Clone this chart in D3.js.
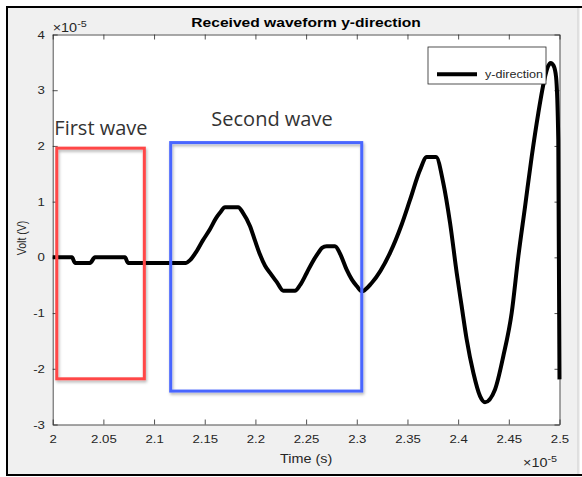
<!DOCTYPE html>
<html>
<head>
<meta charset="utf-8">
<script src="https://cdn.jsdelivr.net/npm/d3@7"></script>
<style>
  body { margin: 0; background: #fff; }
  svg { display: block; font-family: "Liberation Sans", Arial, sans-serif; }
</style>
</head>
<body>
<svg id="svg"></svg>
<script>
// time in units of 1e-5 s, voltage in units of 1e-5 V
const times = [2.000, 2.019, 2.022, 2.0368, 2.0417, 2.0713, 2.0743, 2.1315, 2.1355, 2.142,
    2.148, 2.155, 2.161, 2.165, 2.170, 2.183, 2.1877, 2.1947, 2.1996, 2.2045,
    2.2095, 2.2144, 2.2213, 2.2275, 2.239, 2.244, 2.2506, 2.2558, 2.262, 2.2657,
    2.2703, 2.2785, 2.2834, 2.290, 2.2952, 2.3002, 2.3049, 2.3147, 2.3328, 2.3443,
    2.3525, 2.3624, 2.369, 2.3782, 2.3854, 2.392, 2.3986, 2.4035, 2.4084, 2.415,
    2.4216, 2.4265, 2.4364, 2.4446, 2.4528, 2.4594, 2.466, 2.4726, 2.4791, 2.4857,
    2.4885, 2.4913, 2.4942, 2.4966, 2.4988, 2.500];
const volts = [0, 0, -0.1, -0.1, 0, 0, -0.1, -0.1, -0.05, 0.11,
    0.3, 0.5, 0.7, 0.8, 0.9, 0.9, 0.8, 0.56, 0.3, 0.05,
    -0.15, -0.28, -0.45, -0.6, -0.6, -0.5, -0.28, -0.1, 0.08, 0.17,
    0.2, 0.2, 0.07, -0.22, -0.4, -0.52, -0.61, -0.46, 0.08, 0.59,
    1.03, 1.57, 1.8, 1.8, 1.33, 0.62, -0.28, -0.88, -1.47, -2.07,
    -2.49, -2.6, -2.37, -1.77, -1.0, 0.02, 0.91, 1.81, 2.59, 3.24,
    3.42, 3.49, 3.44, 3.24, 2.11, -2.19];

const xTicks = [2, 2.05, 2.1, 2.15, 2.2, 2.25, 2.3, 2.35, 2.4, 2.45, 2.5];
const yTicks = [-3, -2, -1, 0, 1, 2, 3, 4];

// annotation boxes, in data units
const boxLabels = ["First wave", "Second wave"];
const boxT0 = [2.004, 2.1164];
const boxT1 = [2.0904, 2.3049];
const boxVTop = [1.96, 2.06];
const boxVBottom = [-2.18, -2.40];
const boxColors = ["#ff4646", "#4a66ff"];
const labelT = [2.0016, 2.1565];
const labelV = [2.2, 2.36];

const W = 582, H = 477;
const sx = 1.2; // the picture is stretched sideways
const svg = d3.select("#svg").attr("width", W).attr("height", H);

// figure background + frame
svg.append("rect").attr("x", 6).attr("y", 7).attr("width", 574).attr("height", 468)
    .attr("fill", "#f0f0f0");
svg.append("path").attr("d", "M7,475V7H582").attr("fill", "none")
    .attr("stroke", "#000").attr("stroke-width", 2);
svg.append("path").attr("d", "M6,475H582").attr("fill", "none")
    .attr("stroke", "#000").attr("stroke-width", 2);
svg.append("line").attr("x1", 578).attr("x2", 578).attr("y1", 8).attr("y2", 474)
    .attr("stroke", "#cfcfcf").attr("stroke-width", 1);

const x = d3.scaleLinear().domain([2, 2.5]).range([52.7, 559.5]);
const y = d3.scaleLinear().domain([-3, 4]).range([424.5, 34.5]);

svg.append("rect")
    .attr("x", x(2)).attr("y", y(4))
    .attr("width", x(2.5) - x(2)).attr("height", y(-3) - y(4))
    .attr("fill", "#fff");

const fmt = d => String(+d.toFixed(2));
const axisColor = "#262626";

function styleAxis(g) {
    g.select(".domain").attr("stroke", axisColor).attr("stroke-width", 0.8);
    g.selectAll(".tick line").attr("stroke", axisColor).attr("stroke-width", 0.8);
    g.selectAll(".tick text").attr("fill", axisColor).style("font-size", "11px")
        .style("font-family", "Liberation Sans, Arial, sans-serif")
        .attr("transform", `scale(${sx},1)`);
}

svg.append("g").attr("transform", `translate(0,${y(-3)})`)
    .call(d3.axisBottom(x).tickValues(xTicks).tickFormat(fmt).tickSizeInner(-5).tickSizeOuter(0).tickPadding(11))
    .call(styleAxis);
svg.append("g").attr("transform", `translate(0,${y(4)})`)
    .call(d3.axisTop(x).tickValues(xTicks).tickFormat("").tickSizeInner(-5).tickSizeOuter(0))
    .call(styleAxis);
svg.append("g").attr("transform", `translate(${x(2)},0)`)
    .call(d3.axisLeft(y).tickValues(yTicks).tickFormat(fmt).tickSizeInner(-5).tickSizeOuter(0).tickPadding(6.5))
    .call(styleAxis);
svg.append("g").attr("transform", `translate(${x(2.5)},0)`)
    .call(d3.axisRight(y).tickValues(yTicks).tickFormat("").tickSizeInner(-5).tickSizeOuter(0))
    .call(styleAxis);

// stretched text helper
function stext(xPos, yPos) {
    return svg.append("text").attr("transform", `translate(${xPos},${yPos}) scale(${sx},1)`);
}

// exponent labels
function exponent(xPos, yPos) {
    const t = stext(xPos, yPos).attr("fill", axisColor).style("font-size", "12px");
    t.append("tspan").text("\u00d710");
    t.append("tspan").attr("dy", -5).style("font-size", "9px").text("-5");
}
exponent(x(2), 32);
exponent(523, 467);

// titles
stext((x(2) + x(2.5)) / 2, 27)
    .attr("text-anchor", "middle").style("font-size", "13px").style("font-weight", "bold")
    .attr("fill", "#000").text("Received waveform y-direction");
stext((x(2) + x(2.5)) / 2, 463)
    .attr("text-anchor", "middle").style("font-size", "12px")
    .attr("fill", axisColor).text("Time (s)");
svg.append("text").attr("transform", `translate(21.5,238) scale(${sx},1) rotate(-90)`)
    .attr("text-anchor", "middle").attr("dominant-baseline", "central")
    .style("font-size", "10.5px").attr("fill", axisColor).text("Volt (V)");

// waveform
const data = times.map((t, i) => [t, volts[i]]);
svg.append("path")
    .datum(data)
    .attr("fill", "none")
    .attr("stroke", "#000")
    .attr("stroke-width", 4)
    .attr("stroke-linejoin", "round")
    .attr("stroke-linecap", "butt")
    .attr("d", d3.line().curve(d3.curveMonotoneX).x(d => x(d[0])).y(d => y(d[1])));

// legend
const lg = svg.append("g");
lg.append("rect").attr("x", 428).attr("y", 47).attr("width", 118).attr("height", 37)
    .attr("fill", "#fff").attr("stroke", axisColor).attr("stroke-width", 0.8);
lg.append("line").attr("x1", 437).attr("x2", 477).attr("y1", 74.3).attr("y2", 74.3)
    .attr("stroke", "#000").attr("stroke-width", 4);
stext(485, 78).style("font-size", "10.5px")
    .attr("fill", axisColor).text("y-direction");

// annotation boxes with soft shadow
const defs = svg.append("defs");
defs.append("filter").attr("id", "shadow")
    .attr("x", "-10%").attr("y", "-10%").attr("width", "130%").attr("height", "130%")
    .append("feDropShadow").attr("dx", 1).attr("dy", 2).attr("stdDeviation", 1.5)
    .attr("flood-color", "#000").attr("flood-opacity", 0.3);

boxLabels.forEach((label, i) => {
    svg.append("rect")
        .attr("x", x(boxT0[i])).attr("y", y(boxVTop[i]))
        .attr("width", x(boxT1[i]) - x(boxT0[i]))
        .attr("height", y(boxVBottom[i]) - y(boxVTop[i]))
        .attr("fill", "none").attr("stroke", boxColors[i]).attr("stroke-width", 3)
        .attr("filter", "url(#shadow)");
    svg.append("text").attr("x", x(labelT[i])).attr("y", y(labelV[i]))
        .style("font-family", "Open Sans, sans-serif").style("font-size", "20px")
        .attr("fill", "#333").text(label);
});
</script>
</body>
</html>
